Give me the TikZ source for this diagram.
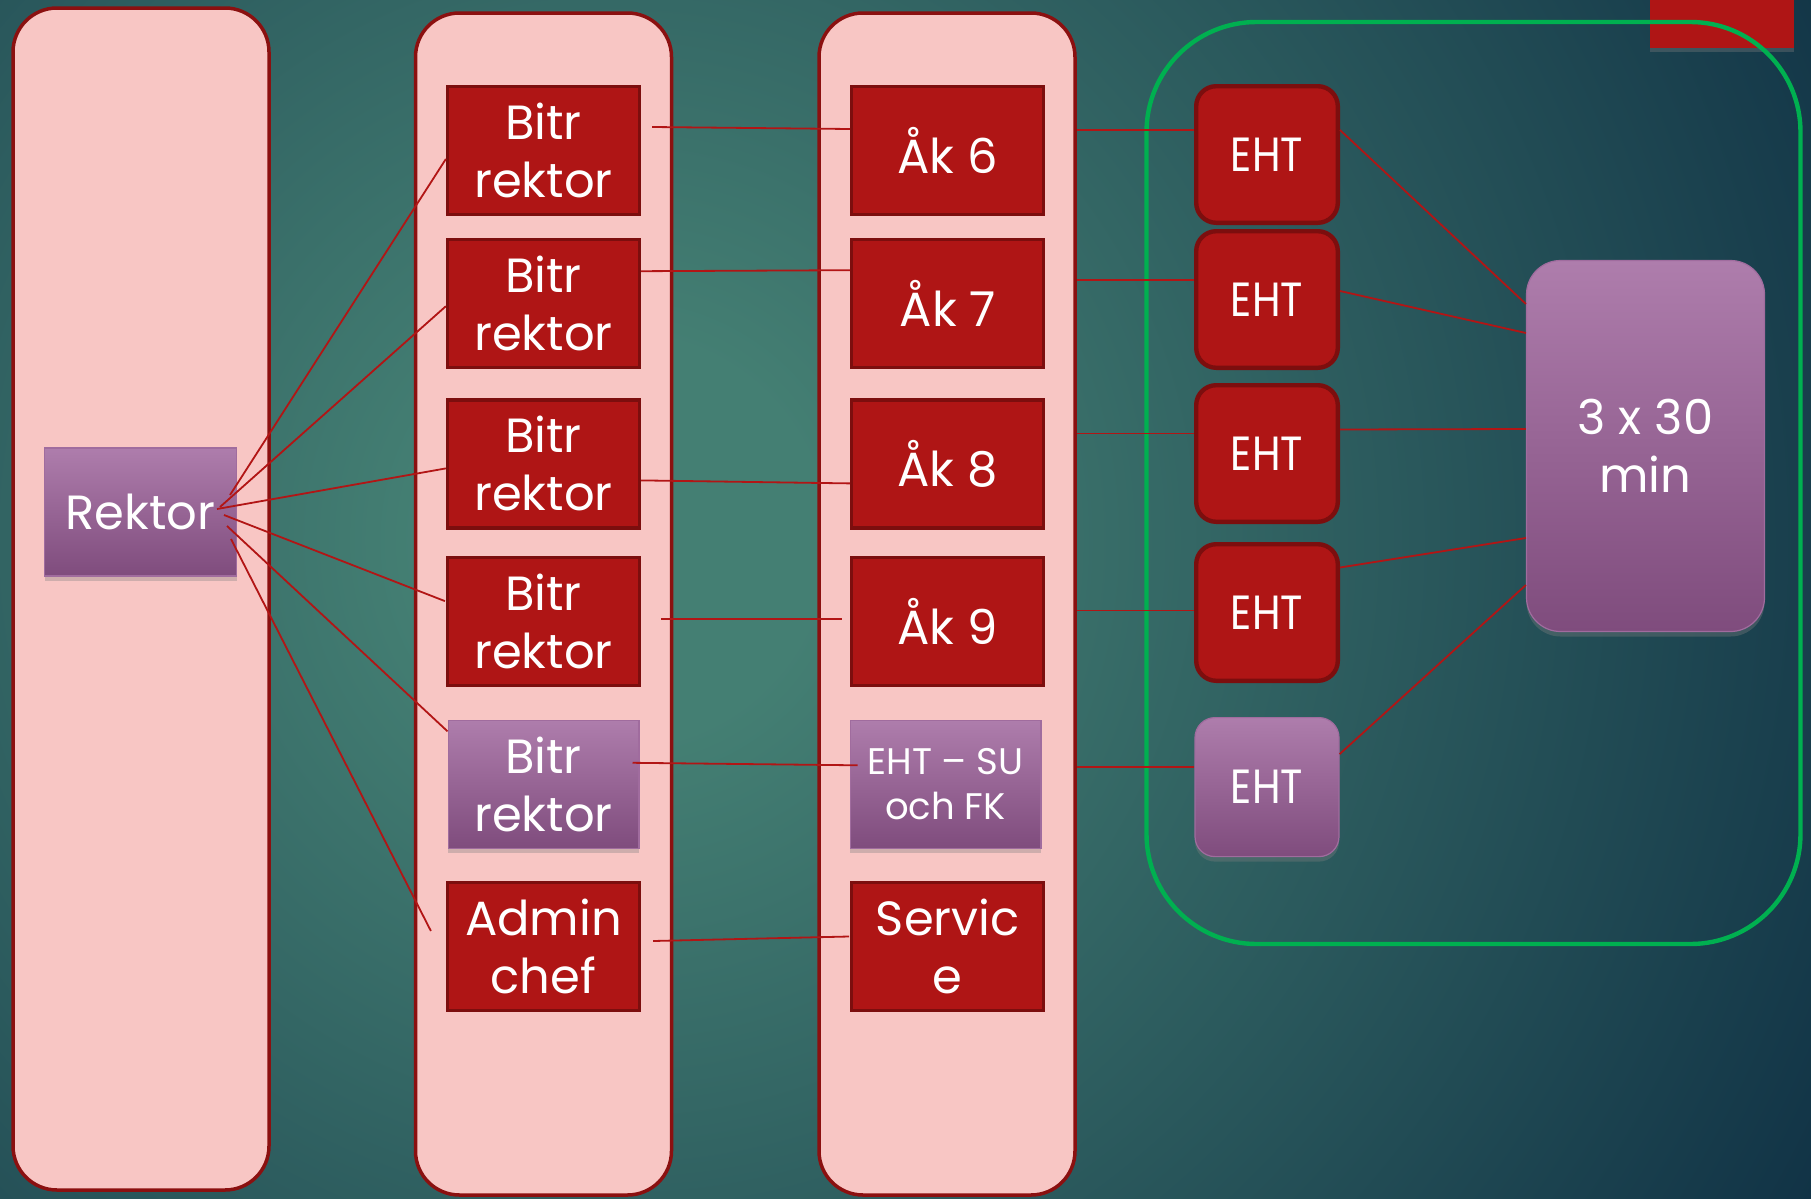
\documentclass[tikz,border=0pt]{standalone}
\usepackage{fontspec}
\setmainfont{Poppins}
\newfontfamily\narrowfont{Poppins}[FakeStretch=0.86]
\usetikzlibrary{positioning,calc,shadows}

\definecolor{bginner}{HTML}{447F73}
\definecolor{bgouter}{HTML}{113346}
\definecolor{lanepink}{HTML}{F8C6C4}
\definecolor{lanered}{HTML}{8B1010}
\definecolor{boxred}{HTML}{AF1515}
\definecolor{boxedge}{HTML}{7C0E0E}
\definecolor{purpletop}{HTML}{AE7DAC}
\definecolor{purplebot}{HTML}{7F4C7D}
\definecolor{purpleedge}{HTML}{A06C9E}
\definecolor{ringgreen}{HTML}{00B050}
\definecolor{linkred}{HTML}{B21515}

\pgfdeclareradialshading{bgglow}{\pgfpoint{0bp}{0bp}}{color(0bp)=(bginner);
  color(3.6bp)=(bginner); color(24.3bp)=(bgouter); color(25bp)=(bgouter)}

\tikzset{
  lane/.style={draw=lanered, line width=1.75pt, fill=lanepink, rounded corners=22pt,
    minimum width=128pt, minimum height=591pt},
  redbox/.style={draw=boxedge, line width=1.6pt, fill=boxred, text=white, align=center,
    inner sep=0pt, minimum width=96pt, minimum height=64pt,
    font=\fontsize{24}{29}\selectfont},
  purplebox/.style={draw=purpleedge, line width=0.6pt, top color=purpletop,
    bottom color=purplebot, text=white, align=center, inner sep=0pt,
    minimum width=95.4pt, minimum height=64pt, font=\fontsize{24}{29}\selectfont,
    drop shadow={shadow xshift=0pt, shadow yshift=-2.5pt, opacity=0.35}},
  ehtbox/.style={redbox, rounded corners=10pt, line width=2.2pt,
    minimum width=70.8pt, minimum height=68.3pt,
    font=\narrowfont\fontsize{24}{29}\selectfont},
  link/.style={draw=linkred, line width=0.9pt},
}

\begin{document}
\begin{tikzpicture}[x=0.5pt, y=-0.5pt]
    \useasboundingbox (0,0) rectangle (1811,1199);
    \begin{scope}
        \clip (0,0) rectangle (1811,1199);
        \fill[bgouter] (0,0) rectangle (1811,1199);
        \shade[shading=bgglow] (620,540) circle (1400);
    \end{scope}

    % the three lanes
    \node[lane] (col1) at (141,599) {};
    \node[lane] (col2) at (543.5,604) {};
    \node[lane] (col3) at (947,604) {};

    \node[purplebox, minimum width=96pt] (rektor) at (140.5,512) {Rektor};

    \node[redbox] (bitr1) at (543.5,150.5) {Bitr\\rektor};
    \node[redbox, below = 11pt of bitr1] (bitr2) {Bitr\\rektor};
    \node[redbox, below = 14.5pt of bitr2] (bitr3) {Bitr\\rektor};
    \node[redbox, below = 13pt of bitr3] (bitr4) {Bitr\\rektor};
    \node[purplebox, below = 16.5pt of bitr4] (bitr5) {Bitr\\rektor};
    \node[redbox, below = 16pt of bitr5] (admin) {Admin\\chef};

    \node[redbox, right = 104.5pt of bitr1] (aak6) {Åk 6};
    \node[redbox, right = 104.5pt of bitr2] (aak7) {Åk 7};
    \node[redbox, right = 104.5pt of bitr3] (aak8) {Åk 8};
    \node[redbox, right = 104.5pt of bitr4] (aak9) {Åk 9};
    \node[purplebox, right = 105pt of bitr5, font=\fontsize{18.5}{22.5}\selectfont] (ehtsu) {EHT – SU\\och FK};
    \node[redbox, right = 104.5pt of admin] (service) {Servic\\e};

    % elevhalsa
    \node[fill=boxred, minimum width=72pt, minimum height=30pt,
      drop shadow={shadow xshift=0pt, shadow yshift=-2pt, opacity=0.35}] (hoek) at (1722,18) {};
    \node[draw=ringgreen, line width=2.2pt, rounded corners=55pt,
      minimum width=327pt, minimum height=461pt] (ring) at (1473.5,483) {};

    \node[ehtbox] (eht1) at (1267,154.5) {EHT};
    \node[ehtbox, below = 2pt of eht1] (eht2) {EHT};
    \node[ehtbox, below = 6.5pt of eht2] (eht3) {EHT};
    \node[ehtbox, below = 9pt of eht3] (eht4) {EHT};
    \node[purplebox, rounded corners=10pt, minimum width=72pt, minimum height=69.5pt,
      below = 17pt of eht4, font=\narrowfont\fontsize{24}{29}\selectfont] (eht5) {EHT};

    \node[purplebox, rounded corners=17pt, minimum width=119pt, minimum height=185.5pt]
      (tid) at (1645.5,446) {3 x 30\\min};

    % connectors
    \foreach \b/\sx/\sy/\ex/\ey in {bitr1/89.5/-17/0/8.5, bitr2/79.5/-5/0/2.5,
      bitr3/76.5/-3/0/4.5, bitr4/83.5/3/-1/-20, bitr5/86.5/14/0/-53, admin/90.5/27/-15/-15.5}
      \draw[link] ($(rektor.center)+(\sx,\sy)$) -- ($(\b.west)+(\ex,\ey)$);

    \draw[link] ($(bitr1.east)+(11,-23.5)$) -- ($(aak6.west)+(0,-21.5)$);
    \draw[link] ($(bitr2.east)+(0,-32.5)$) -- ($(aak7.west)+(0,-33.5)$);
    \draw[link] ($(bitr3.east)+(0,16.5)$) -- ($(aak8.west)+(0,19.5)$);
    \draw[link] ($(bitr4.east)+(20,-2.5)$) -- ($(aak9.west)+(-8,-2.5)$);
    \draw[link] ($(bitr5.east)+(-7,-21.5)$) -- ($(ehtsu.west)+(8,-19)$);
    \draw[link] ($(admin.east)+(12,-5.5)$) -- ($(service.west)+(-1,-10)$);

    \foreach \n/\dy in {1/-24.5, 2/-19.5, 3/-20, 4/-2, 5/-20} {
      \coordinate (in\n) at ($(eht\n.west)+(0,\dy)$);
      \draw[link] (col3.east |- in\n) -- (in\n);
    }

    \foreach \n/\sy/\ey in {1/-24.5/-142, 2/-8.5/-113, 3/-24/-17, 4/-45/92, 5/-33/139}
      \draw[link] ($(eht\n.east)+(0,\sy)$) -- ($(tid.west)+(0,\ey)$);
\end{tikzpicture}
\end{document}
